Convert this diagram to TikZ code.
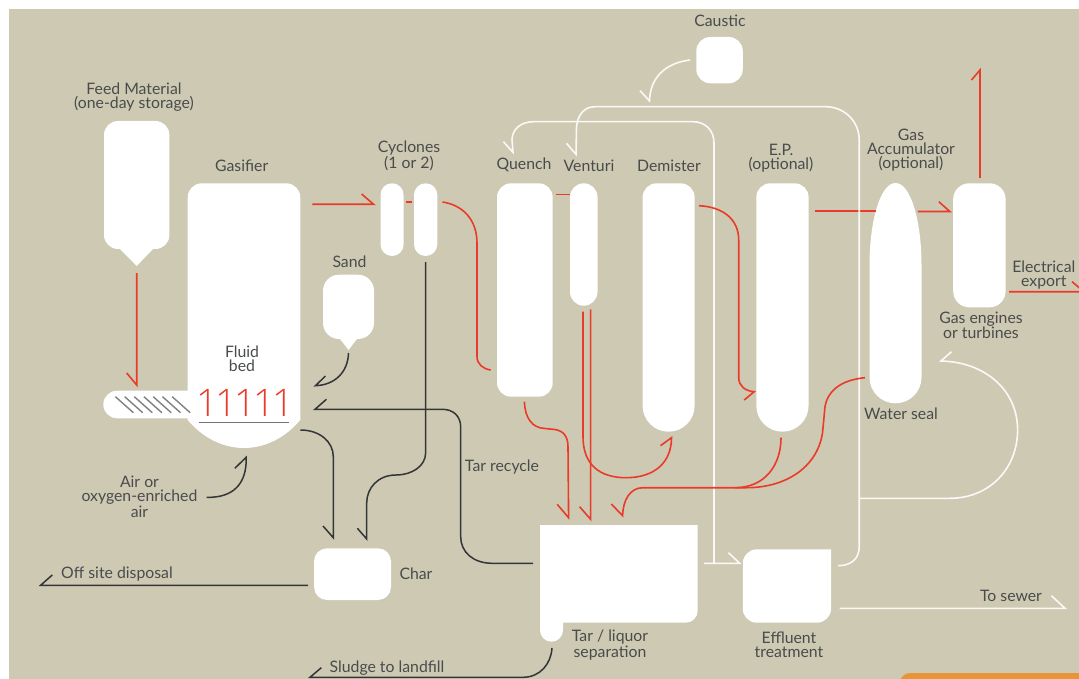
\documentclass[tikz,border=0pt]{standalone}
\usepackage{fontspec}
\setmainfont{Lato}
\newfontfamily\onefont{Open Sans Light}
\definecolor{bg}{HTML}{CEC9B2}
\definecolor{flame}{HTML}{EA3A2A}
\definecolor{ink}{HTML}{333638}
\definecolor{txt}{HTML}{494C4D}
\definecolor{orng}{HTML}{E8953A}
\tikzset{
  x=1pt,y=-1pt,
  unit/.style={fill=white,draw=none,inner sep=0pt,rounded corners=#1},
  unit/.default=14pt,
  vessel/.style={fill=white,draw=none},
  lab/.style={text=txt,font=\fontsize{15.8}{14}\selectfont,align=center,inner sep=0pt},
  redl/.style={draw=flame,line width=1.6pt,line join=miter,fill=none},
  blkl/.style={draw=ink,line width=1.5pt,line join=miter,fill=none},
  whtl/.style={draw=white,line width=1.6pt,line join=miter,fill=none,opacity=.9},
  hatch/.style={draw=black!50,line width=1.4pt},
}
\newcommand{\boxnode}[6][14pt]{% radius, name, x1, y1, x2, y2
  \path[unit=#1] (#3,#4) rectangle (#5,#6);
  \coordinate (#2) at ({(#3+#5)/2},{(#4+#6)/2});}
\begin{document}
\begin{tikzpicture}
\useasboundingbox (0,0) rectangle (1079,679);
\fill[white] (0,0) rectangle (1079,679);
\fill[bg] (9,9) rectangle (1079,679);
\fill[orng,rounded corners=10pt] (900,690) -- (900,673) -- (1100,673) -- (1100,690) -- cycle;

% ---------- vessels
\path[vessel] (120,249) -- (136.7,266) -- (153,249) -- cycle;
\boxnode{feed}{104}{121}{169.4}{249}
\path[vessel] (337,335) -- (348.5,350) -- (360,335) -- cycle;
\boxnode[16pt]{sand}{323}{274.7}{374}{339}
\boxnode[13.8pt]{screw}{103.3}{390.7}{210}{418.3}
\path[vessel,rounded corners=14pt] (187.7,300) -- (187.7,183.3) -- (300.3,183.3) -- (300.3,300)
  [sharp corners] -- (300.3,420) .. controls (285,438) and (265,448) .. (244,448)
  .. controls (223,448) and (203,438) .. (187.7,420) -- cycle;
\coordinate (gasifier) at (244,300);
\boxnode[11.5pt]{cycloneA}{380.5}{183.3}{403.6}{256}
\boxnode[11.6pt]{cycloneB}{414}{183.3}{437.3}{256}
\boxnode{quench}{497}{183.3}{552.7}{396.7}
\boxnode[13.7pt]{venturi}{570}{183.3}{597.5}{305.7}
\path[vessel,rounded corners=14pt] (642.6,300) -- (642.6,183.3) -- (694.6,183.3) -- (694.6,300)
  [sharp corners] -- (694.6,405.7) .. controls (694.6,420.1) and (683,431.7) .. (668.6,431.7)
  .. controls (654.2,431.7) and (642.6,420.1) .. (642.6,405.7) -- cycle;
\coordinate (demister) at (668.6,300);
\path[vessel,rounded corners=14pt] (756.3,300) -- (756.3,183.3) -- (808.6,183.3) -- (808.6,300)
  [sharp corners] -- (808.6,405.6) .. controls (808.6,420) and (797,431.7) .. (782.5,431.7)
  .. controls (768,431.7) and (756.3,420) .. (756.3,405.6) -- cycle;
\coordinate (ep) at (782.5,300);
\path[vessel] (869.5,377.3) -- (869.5,265) .. controls (869.5,222) and (880,183) .. (895.5,183)
  .. controls (911,183) and (921.5,222) .. (921.5,265) -- (921.5,377.3)
  .. controls (921.5,391.7) and (910,403.3) .. (895.5,403.3)
  .. controls (881,403.3) and (869.5,391.7) .. (869.5,377.3) -- cycle;
\coordinate (accumulator) at (895.5,300);
\boxnode[16pt]{engine}{953.2}{183.3}{1005.6}{307.3}
\boxnode[14pt]{caustic}{696.3}{37}{742.8}{83.3}
\boxnode[13pt]{charbox}{314}{548.3}{391}{600}
\path[vessel] (540,525) -- (697.7,525) -- (697.7,610.7) .. controls (697.7,617.3) and (692.3,622.7) .. (685.7,622.7)
  -- (563,622.7) -- (563,630)
  .. controls (563,636.5) and (558,641.7) .. (551.5,641.7) .. controls (545,641.7) and (540,636.5) .. (540,630) -- cycle;
\coordinate (separator) at (620,575);
\path[vessel] [rounded corners=14pt] (742.8,590) -- (742.8,549.3) -- (790,549.3) [sharp corners] -- (831,549.3)
  [rounded corners=14pt] -- (831,622.7) -- (742.8,622.7) -- (742.8,590) -- cycle;
\coordinate (effluent) at (787,586);

% ---------- screw hatching and bed
\foreach \hx in {115.4,124.7,134.3,143.9,153.2,162.5,172.2}
  \draw[hatch] (\hx,396.7) -- ++(18,16);
\node[inner sep=0pt,text=flame,font=\onefont\fontsize{38}{38}\selectfont] (nozzles) at (245.5,402.5)
  {1\kern-2.6pt 1\kern-2.6pt 1\kern-2.6pt 1\kern-2.6pt 1};
\coordinate (bedL) at (198.7,422.7);
\coordinate (bedR) at (289.3,422.7);
\draw[draw=black!55,line width=1.3pt] (bedL) -- (bedR);

% ---------- EP to accumulator (under the white line)
\coordinate (epOut) at (814.5,211);
\coordinate (accIn) at (875.7,211);
\draw[redl] (epOut) -- (accIn);

% ---------- white lines
\coordinate (causticOut) at (690,60);
\coordinate (causticHead) at (649.5,101);
\draw[whtl] (causticOut) .. controls (665,63) and (650,78) .. (causticHead) -- (640,90.7);
\coordinate (venturiIn) at (576,154.3);
\coordinate (effluentBack) at (838,565.7);
\draw[whtl] (effluentBack) .. controls (852,565.7) and (859.2,558) .. (859.2,546.7) -- (859.2,140)
  .. controls (859.2,120) and (843,106.7) .. (825.8,106.7) -- (595,106.7)
  .. controls (582,106.7) and (577,118) .. (576.5,128) -- (venturiIn) -- (566.5,143.3);
\coordinate (quenchIn) at (513,152.3);
\coordinate (teeFoot) at (714,563.3);
\draw[whtl] (teeFoot) -- (714,143) .. controls (714,130) and (705,121.7) .. (693,121.7) -- (533.7,121.7)
  .. controls (520,121.7) and (512,130) .. (512,140) -- (quenchIn) -- (503.4,141.7);
\coordinate (sepOut) at (704,563.3);
\coordinate (effIn) at (739.7,563.3);
\draw[whtl] (sepOut) -- (effIn) -- (728.4,552.7);
\coordinate (branch) at (859.2,498.3);
\coordinate (engineBack) at (941,361);
\draw[whtl] (branch) -- (949.8,498.3) .. controls (990,498.3) and (1017.6,468) .. (1017.6,430)
  .. controls (1017.6,390) and (985,362) .. (engineBack) -- (951.5,351.7);
\coordinate (sewerFrom) at (839.6,608.3);
\coordinate (sewerHead) at (1065,608.3);
\draw[whtl] (sewerFrom) -- (sewerHead) -- (1051.4,595.7);

% ---------- black lines
\coordinate (sandOut) at (348.5,353);
\coordinate (sandHead) at (315.5,385.7);
\draw[blkl] (sandOut) .. controls (348,372) and (335,385) .. (sandHead) -- (325.4,376);
\coordinate (sepTar) at (533,563.3);
\coordinate (tarHead) at (315,409.3);
\draw[blkl] (sepTar) -- (492.4,563.3) .. controls (473,563.3) and (460.7,552) .. (460.7,536.7)
  -- (460.7,427) .. controls (460.7,416) and (453,409.3) .. (442.5,409.3) -- (tarHead) -- (326.4,399.3);
\coordinate (gasOut) at (300.3,430);
\coordinate (charInA) at (333.3,537.7);
\draw[blkl] (gasOut) .. controls (320,430) and (333.3,442) .. (333.3,456.7) -- (charInA) -- (323,526);
\coordinate (cycloneOut) at (425.6,262);
\coordinate (charInB) at (366.7,539);
\draw[blkl] (cycloneOut) -- (425.6,453) .. controls (425.6,466) and (412,475) .. (396,475)
  .. controls (378,475) and (366.7,488) .. (366.7,503) -- (charInB) -- (357.4,528.3);
\coordinate (charOut) at (308,585.3);
\coordinate (siteEnd) at (40.6,585.3);
\draw[blkl] (charOut) -- (siteEnd) -- (52.3,575);
\coordinate (sludgeFrom) at (552,648);
\coordinate (sludgeEnd) at (310,677.3);
\draw[blkl] (sludgeFrom) .. controls (551,664) and (540,677.3) .. (523,677.3) -- (sludgeEnd) -- (321.3,667.7);
\coordinate (airFrom) at (206.6,497.3);
\coordinate (airHead) at (246.2,457.3);
\draw[blkl] (airFrom) .. controls (232,498) and (247,485) .. (airHead) -- (234.8,468.3);

% ---------- red lines
\coordinate (feedOut) at (136.7,273);
\coordinate (feedHead) at (136.7,385);
\draw[redl] (feedOut) -- (feedHead) -- (126.7,373);
\coordinate (gasExit) at (312.3,204.3);
\coordinate (cycIn) at (373.6,204.3);
\draw[redl] (gasExit) -- (cycIn) -- (361.6,194);
\coordinate (linkA) at (406.3,202);
\coordinate (linkB) at (411.5,202);
\draw[redl] (linkA) -- (linkB);
\coordinate (cycExit) at (442.5,202);
\coordinate (quenchSide) at (490.7,370);
\draw[redl] (cycExit) .. controls (463,205) and (477,220) .. (477,243) -- (477,356.7)
  .. controls (477,364) and (483,369) .. (quenchSide);
\coordinate (qvA) at (555.8,194.7);
\coordinate (qvB) at (570,194.7);
\draw[redl] (qvA) -- (qvB);
\coordinate (quenchOut) at (524.4,401.7);
\coordinate (sepInA) at (568.6,517.7);
\draw[redl] (quenchOut) .. controls (525,418) and (532,428) .. (545,428.5) -- (555,429.5)
  .. controls (564,431) and (568,437) .. (568,447) -- (sepInA) -- (557.2,504.3);
\coordinate (venturiOutB) at (590.6,309.3);
\coordinate (sepInB) at (590.6,519.3);
\draw[redl] (venturiOutB) -- (sepInB) -- (579.6,506.7);
\coordinate (venturiOutA) at (583,311.7);
\coordinate (demisterIn) at (671.5,437.7);
\draw[redl] (venturiOutA) -- (583,436.7) .. controls (583,465) and (600,477.7) .. (626,477.7)
  .. controls (655,477.7) and (671.5,462) .. (demisterIn) -- (660.5,445.7);
\coordinate (demisterExit) at (699,205.7);
\coordinate (epIn) at (754.2,391.7);
\draw[redl] (demisterExit) .. controls (724,207) and (738.7,220) .. (738.7,240) -- (738.7,378)
  .. controls (739,386) and (745,391) .. (epIn) -- (744.2,400);
\coordinate (accExit) at (917.8,211.5);
\coordinate (engineIn) at (949.8,211.5);
\draw[redl] (accExit) -- (engineIn) -- (938.8,201.7);
\coordinate (engineTopOut) at (980,178);
\coordinate (stackTop) at (980,70);
\draw[redl] (engineTopOut) -- (stackTop) -- (971.5,80);
\coordinate (engineSide) at (1009,291.7);
\coordinate (exportEnd) at (1084,291.7);
\draw[redl] (engineSide) -- (exportEnd) -- (1072,281.7);
\coordinate (epOut2) at (781,437.7);
\coordinate (mergePt) at (735,487.7);
\draw[redl] (epOut2) .. controls (781,465) and (765,487.7) .. (mergePt);
\coordinate (sealOut) at (865,377.7);
\coordinate (sepInC) at (622.6,515.7);
\draw[redl] (sealOut) .. controls (840,380) and (825,392) .. (824.5,412) -- (822.5,433)
  .. controls (817,468) and (785,487.7) .. (746.6,487.7) -- (643,487.7)
  .. controls (630,487.7) and (623,500) .. (sepInC) -- (611.3,504);

% ---------- labels
\node[lab] (lFeed) at (134,97) {Feed Material\\(one-day storage)};
\node[lab] (lGasifier) at (241.7,166) {Gasifier};
\node[lab] (lCyclones) at (409,156) {Cyclones\\(1 or 2)};
\node[lab] (lSand) at (349.5,262) {Sand};
\node[lab] (lQuench) at (524,165) {Quench};
\node[lab] (lVenturi) at (589,166) {Venturi};
\node[lab] (lDemister) at (669,166) {Demister};
\node[lab] (lEP) at (781,158) {E.P.\\(optional)};
\node[lab] (lGas) at (911,150.5) {Gas\\Accumulator\\(optional)};
\node[lab] (lCaustic) at (720,21) {Caustic};
\node[lab] (lElec) at (1043.8,275.5) {Electrical\\export};
\node[lab] (lEngines) at (981,325.5) {Gas engines\\or turbines};
\node[lab] (lSeal) at (901,414) {Water seal};
\node[lab] (lFluid) at (242,359) {Fluid\\bed};
\node[lab] (lAir) at (139.5,497) {Air or\\oxygen-enriched\\air};
\node[lab] (lTar) at (502,466.7) {Tar recycle};
\node[lab] (lChar) at (416,574) {Char};
\node[lab] (lSite) at (117,574) {Off site disposal};
\node[lab] (lSludge) at (387,668) {Sludge to landfill};
\node[lab] (lSep) at (610,645) {Tar / liquor\\separation};
\node[lab] (lEff) at (789,645) {Effluent\\treatment};
\node[lab] (lSewer) at (1011,596) {To sewer};
\end{tikzpicture}
\end{document}
